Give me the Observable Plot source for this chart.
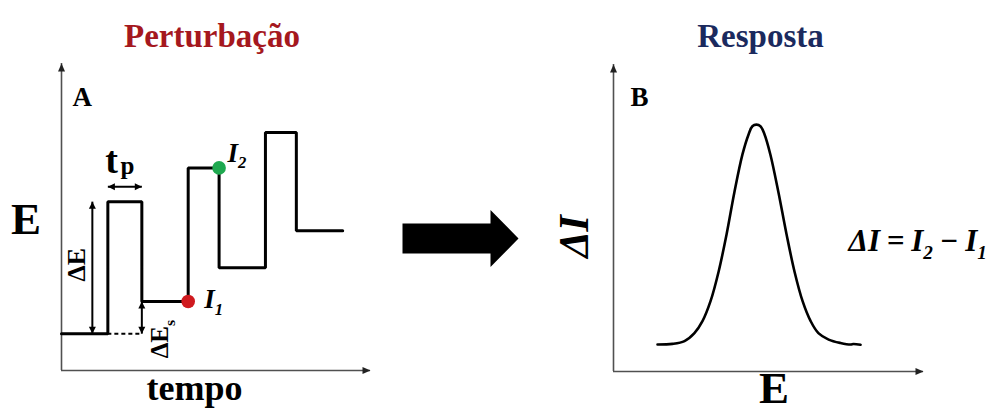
<!DOCTYPE html>
<html lang="pt">
<head>
<meta charset="utf-8">
<script src="https://cdn.jsdelivr.net/npm/d3@7"></script>
<script src="https://cdn.jsdelivr.net/npm/@observablehq/plot@0.6"></script>
<style>
  body { margin: 0; background: #fff; }
  #figura { position: relative; width: 1006px; height: 420px; overflow: hidden; background: #fff; }
  #figura svg { position: absolute; top: 0; }
</style>
</head>
<body>
<div id="figura"></div>
<script>
// ---------- Painel A: perturbação (voltametria de pulso diferencial) ----------
// instantes em que o potencial muda e o potencial mantido até o instante seguinte
const tempo = [0, 15, 26, 41, 51, 66, 76, 91];
const potencial = [12, 55, 22.5, 66, 33.5, 77.5, 45.5, 45.5];

// correntes amostradas: I1 no fim da base, I2 no fim do pulso
const amostras = ["I_1", "I_2"];

// ---------- Painel B: resposta ΔI × E ----------
const E_varrido = [14.2, 19.0, 22.9, 26.1, 28.7, 31.3, 33.9, 36.5, 39.0, 41.6, 43.6, 44.8, 46.1,
                   47.4, 48.7, 50.6, 53.2, 55.8, 58.4, 61.0, 63.6, 66.1, 69.4, 73.2, 76.5, 77.4, 79.7];
const deltaI = [8.8, 9.0, 9.9, 12.5, 16.4, 22.9, 32.5, 44.8, 58.4, 70.7, 77.3, 79.9, 80.4,
                79.9, 77.3, 70.7, 58.4, 44.8, 32.5, 22.9, 16.4, 12.5, 10.4, 9.3, 8.8, 8.95, 8.7];

// ---------- textos ----------
const titulos = ["Perturbação", "Resposta"];
const paineis = ["A", "B"];
const eixoA = ["E", "tempo"];
const eixoB = ["ΔI", "E"];
const rotulos = {dE: "ΔE", dEs: "ΔE_s", tp: ["t", "p"], formula: "ΔI = I_2 − I_1"};

// ---------- estilo ----------
const SERIF = '"Liberation Serif", "Times New Roman", Times, serif';
const EIXO = "#505050";
const VERMELHO = "#a5181e";
const AZUL = "#1b2a5e";
const CORES_AMOSTRA = ["#cf1a1f", "#1fa84f"];
const T_MAX = 100, E_MAX = 100;

// ponta de seta triangular cheia, com a ponta na origem, apontando no ângulo dado (graus, 0 = direita)
function ponta(angulo, comprimento = 8, meiaLargura = 3.5) {
  const a = angulo * Math.PI / 180, c = Math.cos(a), s = Math.sin(a);
  return {
    draw(ctx) {
      [[0, 0], [-comprimento, -meiaLargura], [-comprimento, meiaLargura]].forEach(([x, y], i) => {
        const X = x * c - y * s, Y = x * s + y * c;
        i ? ctx.lineTo(X, Y) : ctx.moveTo(X, Y);
      });
      ctx.closePath();
    }
  };
}

// seta larga entre os painéis
const setaGrossa = {
  draw(ctx) {
    ctx.moveTo(-58, -15); ctx.lineTo(30, -15); ctx.lineTo(30, -28.5); ctx.lineTo(58, 0);
    ctx.lineTo(30, 28.5); ctx.lineTo(30, 15); ctx.lineTo(-58, 15); ctx.closePath();
  }
};

// converte "X_n" em X com índice subscrito
function aplicarSubscritos(svg) {
  d3.select(svg).selectAll("text").each(function () {
    const texto = this.textContent;
    if (!texto.includes("_")) return;
    const el = d3.select(this).text(null);
    let deslocado = false;
    for (const parte of texto.split(/(_.)/).filter(Boolean)) {
      if (parte[0] === "_") {
        el.append("tspan").attr("font-size", "0.62em").attr("dy", "0.4em").text(parte.slice(1));
        deslocado = true;
      } else {
        el.append("tspan").attr("dy", deslocado ? "-0.248em" : null).text(parte);
        deslocado = false;
      }
    }
  });
}

const estilo = {fontFamily: SERIF, background: "none", overflow: "visible"};
const negrito = {fontWeight: "bold", fill: "black"};
const eixos = [
  Plot.ruleX([0], {y1: 0, y2: E_MAX, stroke: EIXO, strokeWidth: 1.6}),
  Plot.ruleY([0], {x1: 0, x2: T_MAX, stroke: EIXO, strokeWidth: 1.6}),
  Plot.dot([0], {x: 0, y: E_MAX, symbol: ponta(-90, 8, 3.5), fill: "#222", stroke: null}),
  Plot.dot([0], {x: T_MAX, y: 0, symbol: ponta(0, 8, 3.5), fill: "#222", stroke: null})
];

// ---------- Painel A ----------
const onda = tempo.map((t, i) => ({t, E: potencial[i]}));
const pontos = [
  {nome: amostras[0], t: tempo[3], E: potencial[2]},
  {nome: amostras[1], t: tempo[4], E: potencial[3]}
];
const tMeioPulso = (tempo[1] + tempo[2]) / 2;
const eMeioPulso = (potencial[0] + potencial[1]) / 2;

const painelA = Plot.plot({
  width: 380, height: 420,
  marginLeft: 61, marginRight: 10, marginTop: 63, marginBottom: 50,
  x: {domain: [0, T_MAX], axis: null},
  y: {domain: [0, E_MAX], axis: null},
  color: {domain: amostras, range: CORES_AMOSTRA},
  style: estilo,
  marks: [
    ...eixos,
    // linha de base prolongada sob o primeiro pulso
    Plot.ruleY([potencial[0]], {x1: tempo[1], x2: tempo[2], stroke: "black", strokeWidth: 2, strokeDasharray: "4,3"}),
    // forma de onda
    Plot.line(onda, {x: "t", y: "E", curve: "step-after", stroke: "black", strokeWidth: 3, strokeLinejoin: "miter"}),
    // ΔE: amplitude do pulso
    Plot.link([0], {x1: tempo[1], x2: tempo[1], y1: potencial[0], y2: potencial[1], dx: -15.5, stroke: "black", strokeWidth: 2}),
    Plot.dot([0], {x: tempo[1], y: potencial[1], dx: -15.5, symbol: ponta(-90, 7, 3.5), fill: "black", stroke: null}),
    Plot.dot([0], {x: tempo[1], y: potencial[0], dx: -15.5, symbol: ponta(90, 7, 3.5), fill: "black", stroke: null}),
    // tp: duração do pulso
    Plot.link([0], {x1: tempo[1], x2: tempo[2], y1: potencial[1], y2: potencial[1], dy: -15, stroke: "black", strokeWidth: 2}),
    Plot.dot([0], {x: tempo[1], y: potencial[1], dy: -15, symbol: ponta(180, 7, 3.5), fill: "black", stroke: null}),
    Plot.dot([0], {x: tempo[2], y: potencial[1], dy: -15, symbol: ponta(0, 7, 3.5), fill: "black", stroke: null}),
    // ΔEs: incremento da escada
    Plot.link([0], {x1: tempo[2], x2: tempo[2], y1: potencial[0], y2: potencial[2], stroke: "black", strokeWidth: 2}),
    Plot.dot([0], {x: tempo[2], y: potencial[2], symbol: ponta(-90, 7, 3.5), fill: "black", stroke: null}),
    Plot.dot([0], {x: tempo[2], y: potencial[0], symbol: ponta(90, 7, 3.5), fill: "black", stroke: null}),
    // pontos de amostragem
    Plot.dot(pontos, {x: "t", y: "E", r: 6.8, fill: "nome", stroke: null}),
    Plot.text([pontos[0]], {x: "t", y: "E", text: "nome", dx: 16, dy: -2, textAnchor: "start", fontSize: 27, fontStyle: "italic", ...negrito}),
    Plot.text([pontos[1]], {x: "t", y: "E", text: "nome", dx: 8.5, dy: -15, textAnchor: "start", fontSize: 27, fontStyle: "italic", ...negrito}),
    // rótulos das grandezas
    Plot.text([rotulos.dE], {x: tempo[1], y: eMeioPulso, text: d => d, dx: -31, dy: -3, rotate: -90, fontSize: 26, ...negrito}),
    Plot.text([rotulos.dEs], {x: tempo[2], y: potencial[0], text: d => d, dx: 18.6, dy: 5.5, rotate: -90, fontSize: 25, ...negrito}),
    Plot.text([rotulos.tp[0]], {x: tMeioPulso, y: potencial[1], text: d => d, dx: -13.3, dy: -41.3, fontSize: 38, ...negrito}),
    Plot.text([rotulos.tp[1]], {x: tMeioPulso, y: potencial[1], text: d => d, dx: -4.3, dy: -35.9, textAnchor: "start", fontSize: 25, ...negrito}),
    // título, letra do painel e eixos
    Plot.text([titulos[0]], {frameAnchor: "top", text: d => d, dx: -4, dy: -40, fontSize: 33, fontWeight: "bold", fill: VERMELHO}),
    Plot.text([paineis[0]], {frameAnchor: "top-left", text: d => d, dx: 11, dy: 23.7, textAnchor: "start", fontSize: 27, ...negrito}),
    Plot.text([eixoA[0]], {frameAnchor: "left", text: d => d, dx: -35.5, dy: 2.1, textAnchor: "middle", fontSize: 45, ...negrito}),
    Plot.text([eixoA[1]], {frameAnchor: "bottom", text: d => d, dx: -21.5, dy: 29, fontSize: 36, ...negrito})
  ]
});

// ---------- seta entre os painéis ----------
const seta = Plot.plot({
  width: 160, height: 420,
  marginLeft: 0, marginRight: 0, marginTop: 56, marginBottom: 0,
  x: {domain: [-1, 1], axis: null},
  y: {domain: [-1, 1], axis: null},
  style: estilo,
  marks: [Plot.dot([0], {x: 0, y: 0, symbol: setaGrossa, fill: "black", stroke: null})]
});

// ---------- Painel B ----------
const resposta = E_varrido.map((E, i) => ({E, dI: deltaI[i]}));

const painelB = Plot.plot({
  width: 466, height: 420,
  marginLeft: 73, marginRight: 83, marginTop: 64, marginBottom: 49,
  x: {domain: [0, T_MAX], axis: null},
  y: {domain: [0, E_MAX], axis: null},
  style: estilo,
  marks: [
    ...eixos,
    Plot.line(resposta, {x: "E", y: "dI", curve: "catmull-rom", stroke: "black", strokeWidth: 2.6}),
    Plot.text([titulos[1]], {frameAnchor: "top", text: d => d, dx: -8, dy: -41, fontSize: 33, fontWeight: "bold", fill: AZUL}),
    Plot.text([paineis[1]], {frameAnchor: "top-left", text: d => d, dx: 17, dy: 22.7, textAnchor: "start", fontSize: 27, ...negrito}),
    Plot.text([eixoB[0]], {frameAnchor: "left", text: d => d, dx: -39, dy: 18.5, rotate: -90, textAnchor: "middle", fontSize: 42, fontStyle: "italic", ...negrito}),
    Plot.text([eixoB[1]], {frameAnchor: "bottom", text: d => d, dx: 5.5, dy: 31.6, fontSize: 45, ...negrito}),
    Plot.text([rotulos.formula], {frameAnchor: "right", text: d => d, dx: -75, dy: 23, textAnchor: "start", fontSize: 31, fontStyle: "italic", ...negrito})
  ]
});

const figura = document.getElementById("figura");
[[painelA, 0], [seta, 380], [painelB, 540]].forEach(([svg, esquerda]) => {
  aplicarSubscritos(svg);
  svg.style.left = esquerda + "px";
  figura.appendChild(svg);
});
// espaçamento um pouco mais justo na fórmula
d3.select(painelB).selectAll("text").filter(function () { return this.textContent.startsWith("ΔI ="); })
  .attr("word-spacing", "-1px");
</script>
</body>
</html>
